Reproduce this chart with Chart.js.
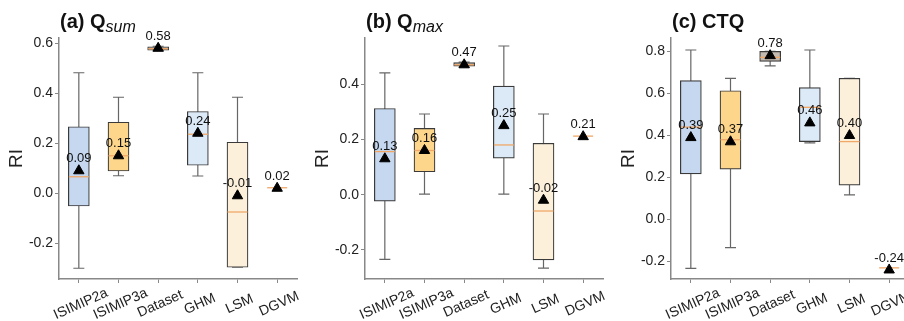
<!DOCTYPE html>
<html>
<head>
<meta charset="utf-8">
<script src="https://cdn.jsdelivr.net/npm/chart.js@4.4.1/dist/chart.umd.min.js"></script>
<style>
  html, body { margin: 0; padding: 0; background: #fff; }
  body { width: 904px; height: 321px; overflow: hidden; position: relative; }
  canvas { position: absolute; top: 0; }
</style>
</head>
<body>
<canvas id="chartA" width="306" height="321" style="left:0px"></canvas>
<canvas id="chartB" width="306" height="321" style="left:306px"></canvas>
<canvas id="chartC" width="306" height="321" style="left:612px"></canvas>
<script>
// Categories shared by all three panels
const categories = ['ISIMIP2a', 'ISIMIP3a', 'Dataset', 'GHM', 'LSM', 'DGVM'];

// (a) Qsum box statistics
const qsumLow  = [-0.300, 0.070, 0.570, 0.069, -0.296, 0.022];
const qsumQ1   = [-0.051, 0.089, 0.572, 0.112, -0.296, 0.022];
const qsumMed  = [0.066, 0.150, 0.578, 0.236, -0.075, 0.022];
const qsumQ3   = [0.266, 0.284, 0.586, 0.327, 0.204, 0.022];
const qsumHigh = [0.482, 0.384, 0.588, 0.482, 0.384, 0.022];
const qsumMean = [0.09, 0.15, 0.58, 0.24, -0.01, 0.02];
const qsumTicks = [-0.2, 0.0, 0.2, 0.4, 0.6];

// (b) Qmax box statistics
const qmaxLow  = [-0.234, 0.002, 0.462, 0.002, -0.266, 0.212];
const qmaxQ1   = [-0.023, 0.083, 0.465, 0.132, -0.236, 0.212];
const qmaxMed  = [0.156, 0.160, 0.470, 0.180, -0.059, 0.212];
const qmaxQ3   = [0.312, 0.240, 0.478, 0.393, 0.186, 0.212];
const qmaxHigh = [0.441, 0.292, 0.480, 0.538, 0.292, 0.212];
const qmaxMean = [0.13, 0.16, 0.47, 0.25, -0.02, 0.21];
const qmaxTicks = [-0.2, 0.0, 0.2, 0.4];

// (c) CTQ box statistics
const ctqLow  = [-0.232, -0.134, 0.731, 0.365, 0.117, -0.230];
const ctqQ1   = [0.217, 0.240, 0.753, 0.371, 0.164, -0.230];
const ctqMed  = [0.440, 0.380, 0.772, 0.534, 0.371, -0.230];
const ctqQ3   = [0.661, 0.613, 0.800, 0.628, 0.672, -0.230];
const ctqHigh = [0.807, 0.672, 0.800, 0.807, 0.672, -0.230];
const ctqMean = [0.39, 0.37, 0.78, 0.46, 0.40, -0.24];
const ctqTicks = [-0.2, 0.0, 0.2, 0.4, 0.6, 0.8];

const boxFill   = ['#c5d8f0', '#fdd68b', '#c4bab0', '#dce9f7', '#fdf0da', 'rgba(0,0,0,0)'];
const boxBorder = ['#3a3a3a', '#3a3a3a', '#3a3a3a', '#3a3a3a', '#3a3a3a', 'rgba(0,0,0,0)'];
const FONT = '"Liberation Sans", Arial, sans-serif';

// whiskers, medians, mean labels, titles and rotated category labels
const boxPlugin = {
    id: 'boxExtras',
    beforeDatasetDraw(chart, args) {
        if (args.index !== 0) return;
        const o = chart.options.plugins.boxExtras;
        const { ctx, scales: { x, y } } = chart;
        ctx.save();
        ctx.strokeStyle = '#666';
        ctx.lineWidth = 1.2;
        o.low.forEach((lo, i) => {
            if (lo === o.high[i]) return;
            const px = x.getPixelForValue(i);
            const yLo = y.getPixelForValue(lo), yHi = y.getPixelForValue(o.high[i]);
            ctx.beginPath();
            ctx.moveTo(px, yLo); ctx.lineTo(px, yHi);
            ctx.moveTo(px - 5.5, yLo); ctx.lineTo(px + 5.5, yLo);
            ctx.moveTo(px - 5.5, yHi); ctx.lineTo(px + 5.5, yHi);
            ctx.stroke();
        });
        ctx.restore();
    },
    afterDatasetDraw(chart, args) {
        if (args.index !== 0) return;
        const o = chart.options.plugins.boxExtras;
        const { ctx, scales: { x, y } } = chart;
        ctx.save();
        ctx.strokeStyle = '#f0a868';
        ctx.lineWidth = 1.3;
        o.med.forEach((m, i) => {
            const px = x.getPixelForValue(i);
            const py = y.getPixelForValue(m);
            ctx.beginPath();
            ctx.moveTo(px - 10, py); ctx.lineTo(px + 10, py);
            ctx.stroke();
        });
        ctx.restore();
    },
    afterDraw(chart) {
        const o = chart.options.plugins.boxExtras;
        const { ctx, chartArea, scales: { x, y } } = chart;
        ctx.save();
        // mean labels
        ctx.fillStyle = '#111';
        ctx.font = '13px ' + FONT;
        ctx.textAlign = 'center';
        ctx.textBaseline = 'middle';
        o.mean.forEach((m, i) => {
            ctx.fillText(m.toFixed(2), x.getPixelForValue(i), y.getPixelForValue(m) - 12);
        });
        // rotated category labels
        ctx.fillStyle = '#222';
        ctx.font = '14px ' + FONT;
        categories.forEach((c, i) => {
            ctx.save();
            ctx.translate(x.getPixelForValue(i) + 2, chartArea.bottom + 25);
            ctx.rotate(-24 * Math.PI / 180);
            ctx.fillText(c, 0, 0);
            ctx.restore();
        });
        // y axis title
        ctx.save();
        ctx.translate(17, (chartArea.top + chartArea.bottom) / 2);
        ctx.rotate(-Math.PI / 2);
        ctx.font = '19px ' + FONT;
        ctx.fillText('RI', 0, 0);
        ctx.restore();
        // panel title with italic subscript
        ctx.textAlign = 'left';
        ctx.textBaseline = 'alphabetic';
        ctx.fillStyle = '#111';
        ctx.font = 'bold 20px ' + FONT;
        const tx = chartArea.left + 1;
        ctx.fillText(o.title, tx, 28);
        if (o.sub) {
            const w = ctx.measureText(o.title).width;
            ctx.font = 'italic 16px ' + FONT;
            ctx.fillText(o.sub, tx + w, 32);
        }
        ctx.restore();
    }
};

function makePanel(id, title, sub, low, q1, med, q3, high, mean, yTicks, yMin, yMax) {
    const ctx = document.getElementById(id).getContext('2d');
    return new Chart(ctx, {
        type: 'bar',
        data: {
            labels: categories,
            datasets: [{
                type: 'bar',
                data: q1.map((v, i) => [v, q3[i]]),
                backgroundColor: boxFill,
                borderColor: boxBorder,
                borderWidth: 1.2,
                borderSkipped: false,
                barThickness: 21,
                order: 2
            }, {
                type: 'line',
                data: mean,
                showLine: false,
                pointStyle: 'triangle',
                pointRadius: 6,
                backgroundColor: '#000',
                borderColor: '#000',
                borderWidth: 1,
                order: 0
            }]
        },
        options: {
            responsive: false,
            animation: false,
            events: [],
            layout: { padding: { top: 38, right: 9, left: 0, bottom: 0 } },
            plugins: {
                legend: { display: false },
                tooltip: { enabled: false },
                boxExtras: { title, sub, low, med, high, mean }
            },
            scales: {
                x: {
                    offset: true,
                    grid: { offset: false, drawOnChartArea: false, tickLength: 4, color: '#888' },
                    border: { color: '#888', width: 1.5 },
                    ticks: { display: false },
                    afterFit(s) { s.height = 42; }
                },
                y: {
                    min: yMin,
                    max: yMax,
                    grid: { drawOnChartArea: false, tickLength: 4, color: '#888' },
                    border: { color: '#888', width: 1.5 },
                    ticks: {
                        color: '#222',
                        padding: 2,
                        font: { size: 14, family: FONT },
                        callback: v => Number(v).toFixed(1)
                    },
                    afterBuildTicks(s) { s.ticks = yTicks.map(v => ({ value: v })); },
                    afterFit(s) { s.width = 59; }
                }
            }
        },
        plugins: [boxPlugin]
    });
}

makePanel('chartA', '(a) Q', 'sum', qsumLow, qsumQ1, qsumMed, qsumQ3, qsumHigh, qsumMean, qsumTicks, -0.343, 0.621);
makePanel('chartB', '(b) Q', 'max', qmaxLow, qmaxQ1, qmaxMed, qmaxQ3, qmaxHigh, qmaxMean, qmaxTicks, -0.305, 0.567);
makePanel('chartC', '(c) CTQ', '', ctqLow, ctqQ1, ctqMed, ctqQ3, ctqHigh, ctqMean, ctqTicks, -0.283, 0.864);
</script>
</body>
</html>
